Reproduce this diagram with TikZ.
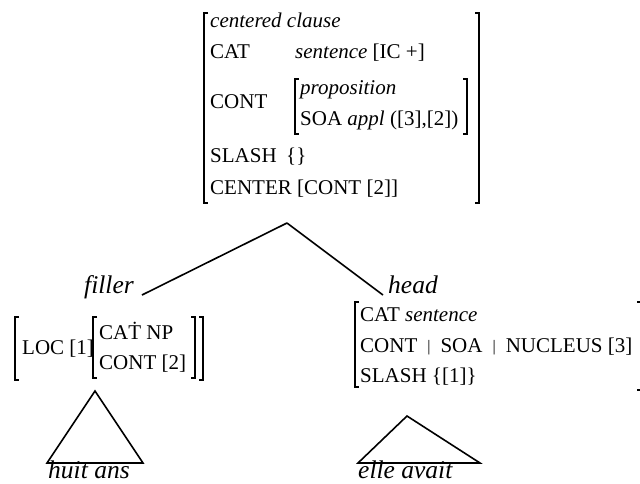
\documentclass[tikz,border=0pt]{standalone}
\usepackage{fontspec}
\setmainfont{Liberation Serif}
\usetikzlibrary{positioning}
\tikzset{
  feat/.style={anchor=base west,inner sep=0pt,font=\fontsize{21}{25}\selectfont},
  lab/.style={anchor=base west,inner sep=0pt,font=\fontsize{25.5}{30}\selectfont\itshape},
  brk/.style={line width=1.1pt},
  branch/.style={line width=1.6pt},
}
% thin AVM brackets: x, top, bottom
\newcommand{\lbrk}[3]{\draw[brk] (#1+4,#2) -- (#1,#2) -- (#1,#3) -- (#1+4,#3);}
\newcommand{\rbrk}[3]{\draw[brk] (#1-4,#2) -- (#1,#2) -- (#1,#3) -- (#1-4,#3);}
\newcommand{\pth}{\hspace{10pt}\raisebox{0.5pt}{\fontsize{16}{16}\selectfont|}\hspace{10pt}}

\begin{document}
\begin{tikzpicture}[x=1pt,y=-1pt]
\useasboundingbox (0,0) rectangle (640,483);

% mother AVM
\lbrk{204}{13}{203}
\rbrk{479}{13}{203}
\node[feat] (typ) at (210,27) {\itshape centered clause};
\node[feat] (cat) at (210,58) {CAT};
\node[feat] (catv) at (295,58) {\textit{sentence} [IC +]};
\node[feat] (cont) at (210,108) {CONT};
\lbrk{295}{79}{134}
\rbrk{467}{79}{134}
\node[feat] (prop) at (300,94) {\itshape proposition};
\node[feat] (soa) at (300,125) {SOA \textit{appl} ([3],[2])};
\node[feat] (slash) at (210,162) {SLASH};
\node[feat] (slashv) at (286,162) {\{\}};
\node[feat] (center) at (210,194) {CENTER [CONT [2]]};

% branches
\coordinate (apex) at (287,223);
\node[lab] (filler) at (84,293) {filler};
\node[lab] (head) at (388,293) {head};
\draw[branch] (apex) -- ([shift={(8,2)}]filler.base east);
\draw[branch] (apex) -- ([shift={(-5,2)}]head.base west);

% filler AVM
\lbrk{15}{317}{380}
\rbrk{203}{317}{380}
\node[feat] (loc) at (22,354) {LOC [1]};
\lbrk{93}{317}{378}
\rbrk{195}{317}{378}
\node[feat] (fcat) at (99,339) {CA\.{T} NP};
\node[feat] (fcont) at (99,369) {CONT [2]};

% head AVM
\lbrk{355}{302}{387}
\rbrk{641}{302}{390}
\node[feat] (hcat) at (360,321) {CAT \textit{sentence}};
\node[feat] (hcont) at (360,352) {CONT\pth SOA\pth NUCLEUS [3]};
\node[feat] (hslash) at (360,382) {SLASH \{[1]\}};

% daughters
\draw[branch] (47,463) -- (95,391) -- (143,463) -- cycle;
\node[lab] (huit) at (48,478) {huit ans};
\draw[branch] (358,463) -- (407,416) -- (480,463) -- cycle;
\node[lab] (elle) at (358,478) {elle avait};
\end{tikzpicture}
\end{document}
